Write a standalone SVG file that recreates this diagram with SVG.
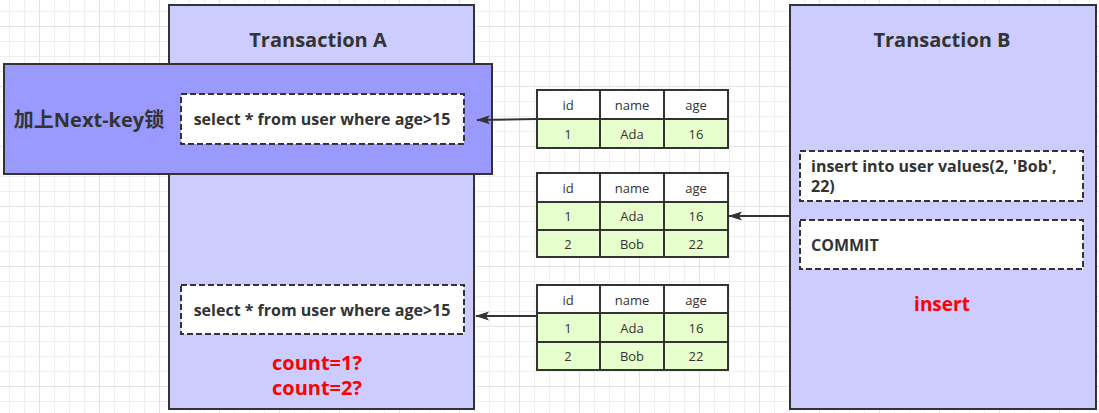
<svg xmlns="http://www.w3.org/2000/svg" width="1099" height="413" viewBox="0 0 1099 413">
<defs>
<pattern id="grid" x="39" y="26" width="60" height="60" patternUnits="userSpaceOnUse">
<path d="M15.5 0V60M30.5 0V60M45.5 0V60M0 15.5H60M0 30.5H60M0 45.5H60" stroke="#efefef" stroke-width="1" fill="none"/>
<path d="M0.5 0V60M0 0.5H60" stroke="#e3e3e3" stroke-width="1" fill="none"/>
</pattern>
<marker id="arr" markerWidth="14" markerHeight="10" refX="13" refY="5" orient="auto" markerUnits="userSpaceOnUse">
<path d="M14 5L0 0.5L3 5L0 9.5Z" fill="#333"/>
</marker>
<style>
.tx{fill:#ccccff;stroke:#333;stroke-width:2}
.lock{fill:#9999ff;stroke:#333;stroke-width:2}
.dash{fill:#fff;stroke:#333;stroke-width:2;stroke-dasharray:6 3}
.title{font-family:"Open Sans","Noto Sans CJK SC",sans-serif;font-weight:700;font-size:20px;fill:#333;text-anchor:middle}
.sql{font-family:"Open Sans","Noto Sans CJK SC",sans-serif;font-weight:700;font-size:16px;fill:#333}
.red{font-family:"Open Sans","Noto Sans CJK SC",sans-serif;font-weight:700;font-size:20px;fill:#ff0000;text-anchor:middle}
.hd{fill:#fff;stroke:#333;stroke-width:2}
.row{fill:#e6ffcc;stroke:#333;stroke-width:2}
.cell{font-family:"Open Sans","Noto Sans CJK SC",sans-serif;font-size:13px;fill:#333;text-anchor:middle}
.conn{stroke:#333;stroke-width:2;fill:none}
</style>
</defs>
<rect x="0" y="0" width="1099" height="413" fill="#fff"/>
<rect x="0" y="0" width="1099" height="413" fill="url(#grid)"/>

<g id="transactionA">
<rect class="tx" x="169" y="5" width="305" height="404"/>
<text class="title" x="318" y="47">Transaction A</text>
</g>

<g id="nextKeyLock">
<rect class="lock" x="4" y="64" width="488" height="110"/>
<text class="title" x="89" y="127">加上Next-key锁</text>
</g>

<g id="selectA1">
<rect class="dash" x="181" y="94" width="283" height="50"/>
<text class="sql" x="322" y="125" text-anchor="middle">select * from user where age&gt;15</text>
</g>

<g id="selectA2">
<rect class="dash" x="181" y="285" width="283" height="49"/>
<text class="sql" x="322" y="316" text-anchor="middle">select * from user where age&gt;15</text>
</g>

<g id="countLabel">
<text class="red" x="317" y="370">count=1?</text>
<text class="red" x="317" y="395">count=2?</text>
</g>

<g id="transactionB">
<rect class="tx" x="790" y="5" width="306" height="404"/>
<text class="title" x="942" y="47">Transaction B</text>
</g>

<g id="insertB">
<rect class="dash" x="800" y="151" width="283" height="50"/>
<text class="sql" x="811" y="172">insert into user values(2, 'Bob',</text>
<text class="sql" x="811" y="192">22)</text>
</g>

<g id="commitB">
<rect class="dash" x="800" y="220" width="283" height="49"/>
<text class="sql" x="811" y="251">COMMIT</text>
</g>

<g id="insertLabel">
<text class="red" x="942" y="311" style="font-size:19px">insert</text>
</g>

<g id="table1">
<rect class="hd" x="537" y="90" width="63" height="29"/>
<rect class="hd" x="600" y="90" width="64" height="29"/>
<rect class="hd" x="664" y="90" width="64" height="29"/>
<rect class="row" x="537" y="119" width="63" height="29"/>
<rect class="row" x="600" y="119" width="64" height="29"/>
<rect class="row" x="664" y="119" width="64" height="29"/>
<text class="cell" x="568" y="110">id</text>
<text class="cell" x="632" y="110">name</text>
<text class="cell" x="696" y="110">age</text>
<text class="cell" x="568" y="139">1</text>
<text class="cell" x="632" y="139">Ada</text>
<text class="cell" x="696" y="139">16</text>
</g>

<g id="table2">
<rect class="hd" x="537" y="173" width="63" height="29"/>
<rect class="hd" x="600" y="173" width="64" height="29"/>
<rect class="hd" x="664" y="173" width="64" height="29"/>
<rect class="row" x="537" y="202" width="63" height="28"/>
<rect class="row" x="600" y="202" width="64" height="28"/>
<rect class="row" x="664" y="202" width="64" height="28"/>
<rect class="row" x="537" y="230" width="63" height="27"/>
<rect class="row" x="600" y="230" width="64" height="27"/>
<rect class="row" x="664" y="230" width="64" height="27"/>
<text class="cell" x="568" y="193">id</text>
<text class="cell" x="632" y="193">name</text>
<text class="cell" x="696" y="193">age</text>
<text class="cell" x="568" y="221">1</text>
<text class="cell" x="632" y="221">Ada</text>
<text class="cell" x="696" y="221">16</text>
<text class="cell" x="568" y="249">2</text>
<text class="cell" x="632" y="249">Bob</text>
<text class="cell" x="696" y="249">22</text>
</g>

<g id="table3">
<rect class="hd" x="537" y="285" width="63" height="28"/>
<rect class="hd" x="600" y="285" width="64" height="28"/>
<rect class="hd" x="664" y="285" width="64" height="28"/>
<rect class="row" x="537" y="313" width="63" height="29"/>
<rect class="row" x="600" y="313" width="64" height="29"/>
<rect class="row" x="664" y="313" width="64" height="29"/>
<rect class="row" x="537" y="342" width="63" height="28"/>
<rect class="row" x="600" y="342" width="64" height="28"/>
<rect class="row" x="664" y="342" width="64" height="28"/>
<text class="cell" x="568" y="305">id</text>
<text class="cell" x="632" y="305">name</text>
<text class="cell" x="696" y="305">age</text>
<text class="cell" x="568" y="333">1</text>
<text class="cell" x="632" y="333">Ada</text>
<text class="cell" x="696" y="333">16</text>
<text class="cell" x="568" y="361">2</text>
<text class="cell" x="632" y="361">Bob</text>
<text class="cell" x="696" y="361">22</text>
</g>

<g id="connectors">
<path class="conn" d="M537 119L477 120" marker-end="url(#arr)"/>
<path class="conn" d="M790 216L729 216" marker-end="url(#arr)"/>
<path class="conn" d="M537 316L476 316" marker-end="url(#arr)"/>
</g>
</svg>
